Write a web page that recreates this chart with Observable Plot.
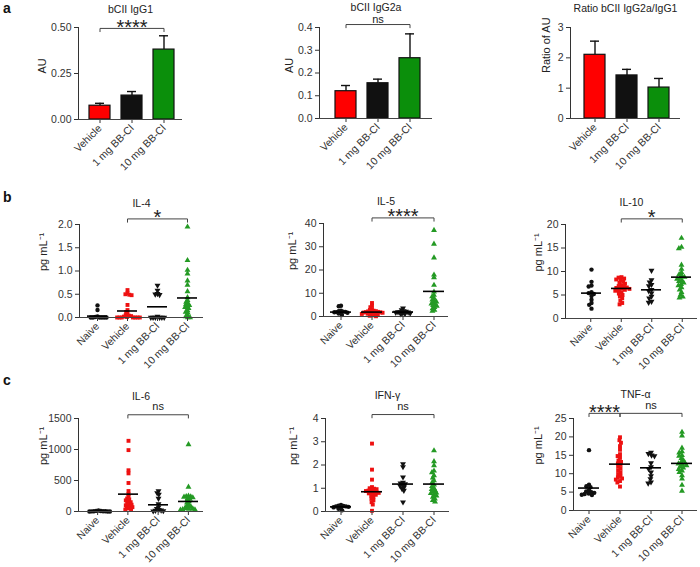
<!DOCTYPE html>
<html>
<head>
<meta charset="utf-8">
<script src="https://cdn.jsdelivr.net/npm/d3@7"></script>
<script src="https://cdn.jsdelivr.net/npm/@observablehq/plot@0.6"></script>
<style>
  body { margin: 0; background: #fff; }
  #fig { position: relative; width: 700px; height: 567px; font-family: "Liberation Sans", Arial, sans-serif; overflow: hidden; }
  .panel { position: absolute; }
  .panel svg { position: absolute; left: 0; top: 0; }
  .letter { position: absolute; font-weight: bold; font-size: 14px; line-height: 14px; color: #111; }
</style>
</head>
<body>
<div id="fig"></div>
<script>
// ---------------- data ----------------
const barGroups = ["Vehicle", "1 mg BB-Cl", "10 mg BB-Cl"];
const ratioGroups = ["Vehicle", "1mg BB-Cl", "10 mg BB-Cl"];
const igg1Mean = [0.075, 0.13, 0.38];
const igg1Sem = [0.013, 0.022, 0.075];
const igg2aMean = [0.12, 0.155, 0.265];
const igg2aSem = [0.025, 0.018, 0.107];
const ratioMean = [2.1, 1.42, 1.02];
const ratioSem = [0.45, 0.2, 0.3];

const scatterGroups = ["Naive", "Vehicle", "1 mg BB-Cl", "10 mg BB-Cl"];

const il4Naive = [0.26, 0.16, 0.02, 0.01, 0, 0, 0, 0, 0, 0];
const il4Vehicle = [0.59, 0.52, 0.50, 0.49, 0.48, 0.27, 0.16, 0.12, 0.08, 0.05, 0.04, 0.03, 0.02, 0.01, 0, 0, 0, 0, 0, 0, 0];
const il4Low = [0.69, 0.58, 0.51, 0.50, 0.49, 0.02, 0, 0, 0, 0, 0, 0];
const il4High = [1.95, 1.23, 1.02, 0.94, 0.79, 0.70, 0.56, 0.43, 0.37, 0.33, 0.30, 0.28, 0.26, 0.24, 0.22, 0.20, 0.15, 0.12, 0.10, 0.05, 0.02, 0, 0];
const il4Means = [0.03, 0.14, 0.23, 0.42];

const il5Naive = [4.6, 4.4, 2.5, 2.3, 2.1, 2.0, 1.9, 1.8, 1.6, 1.5, 1.3, 0.6];
const il5Vehicle = [5.8, 4.7, 4.0, 3.2, 2.8, 2.5, 2.3, 2.2, 2.1, 2.0, 1.9, 1.8, 1.7, 1.6, 1.5, 1.4, 1.3, 1.2, 1.1, 1.0, 0.8, 0.5, 0.3, 0.1];
const il5Low = [3.6, 2.8, 2.4, 2.2, 2.0, 1.9, 1.8, 1.7, 1.5, 1.4, 1.2, 1.0];
const il5High = [37.1, 31.2, 25.3, 17.9, 16.8, 13.5, 10.6, 9.2, 8.6, 7.9, 7.2, 6.8, 6.3, 5.9, 5.5, 5.2, 4.8, 4.5, 4.0, 3.4, 2.8, 2.3];
const il5Means = [1.9, 1.9, 1.9, 10.8];

const il10Naive = [10.4, 7.8, 7.0, 6.8, 5.6, 5.4, 5.2, 4.8, 4.0, 3.3, 2.9, 2.1];
const il10Vehicle = [8.8, 8.7, 8.5, 8.3, 8.2, 7.9, 7.6, 7.4, 7.1, 6.9, 6.7, 6.6, 6.5, 6.4, 6.3, 6.1, 6.0, 5.9, 5.6, 5.3, 5.0, 4.7, 4.3, 3.8, 3.3, 3.0];
const il10Low = [10.2, 8.2, 7.7, 7.2, 6.9, 6.1, 5.9, 5.4, 4.7, 4.3, 3.6, 3.4];
const il10High = [17.1, 15.2, 14.9, 11.4, 10.5, 9.8, 9.4, 9.1, 8.8, 8.6, 8.4, 8.1, 7.9, 7.6, 7.3, 7.0, 6.6, 6.1, 5.6, 5.0, 4.6, 4.4];
const il10Means = [5.4, 6.4, 6.1, 8.8];

const il6Naive = [15, 10, 8, 5, 5, 3, 2, 0, 0, 0];
const il6Vehicle = [1140, 990, 665, 615, 460, 330, 280, 240, 210, 195, 180, 160, 150, 130, 120, 110, 100, 90, 80, 70, 60, 50, 40, 30];
const il6Low = [330, 300, 275, 210, 120, 70, 45, 30, 20, 15, 10, 5];
const il6High = [1080, 395, 250, 245, 240, 235, 225, 215, 200, 180, 160, 140, 120, 100, 80, 70, 60, 50, 45, 40, 35, 30, 25];
const il6Means = [5, 280, 108, 162];

const ifnNaive = [0.28, 0.25, 0.24, 0.22, 0.22, 0.2, 0.18, 0.15, 0.12, 0.05];
const ifnVehicle = [2.92, 1.8, 1.37, 1.05, 1.0, 0.98, 0.96, 0.93, 0.9, 0.88, 0.86, 0.84, 0.82, 0.8, 0.78, 0.75, 0.72, 0.68, 0.62, 0.55, 0.48, 0.4, 0.3, 0.03];
const ifnLow = [2.05, 1.92, 1.48, 1.25, 1.22, 1.18, 1.14, 1.1, 1.05, 0.98, 0.9, 0.4];
const ifnHigh = [2.62, 2.15, 1.98, 1.75, 1.68, 1.55, 1.45, 1.33, 1.25, 1.15, 1.08, 1.0, 0.95, 0.9, 0.85, 0.8, 0.78, 0.72, 0.68, 0.62, 0.55, 0.48, 0.42];
const ifnMeans = [0.2, 0.85, 1.18, 1.18];

const tnfNaive = [16.4, 7.0, 6.6, 6.3, 5.5, 5.2, 5.0, 4.8, 4.6, 4.5, 4.3, 4.2];
const tnfVehicle = [19.9, 19.1, 18.4, 17.5, 16.5, 15.3, 14.8, 14.3, 13.6, 13.2, 12.8, 12.4, 11.9, 11.4, 10.9, 10.4, 9.9, 9.4, 9.0, 8.7, 8.4, 8.0, 7.6, 6.5];
const tnfLow = [15.8, 15.4, 15.0, 14.8, 12.9, 11.8, 11.3, 10.4, 9.4, 8.6, 7.7, 7.4];
const tnfHigh = [21.3, 20.3, 17.0, 16.0, 15.7, 15.0, 14.8, 14.2, 13.6, 13.1, 12.9, 12.7, 12.4, 12.2, 11.9, 11.6, 11.2, 10.8, 10.4, 9.5, 8.6, 6.9, 5.3];
const tnfMeans = [6.1, 12.6, 11.6, 12.8];

// ---------------- styles ----------------
const FONT = '"Liberation Sans", Arial, sans-serif';
const INK = "#222";
const AXIS = "#444";
const barColors = ["#ff0000", "#111111", "#0b8f0b"];
const dotColors = ["#111111", "#ee1111", "#111111", "#249a24"];

const triDown = {
  draw(context, size) {
    const s3 = Math.sqrt(3);
    const y = -Math.sqrt(size / (s3 * 3));
    context.moveTo(0, -y * 2);
    context.lineTo(-s3 * y, y);
    context.lineTo(s3 * y, y);
    context.closePath();
  }
};

const fig = document.getElementById("fig");
function container(left, top, width, height) {
  const d = document.createElement("div");
  d.className = "panel";
  d.style.left = left + "px"; d.style.top = top + "px";
  d.style.width = width + "px"; d.style.height = height + "px";
  fig.appendChild(d);
  return d;
}
const svgStyle = {fontFamily: FONT, fontSize: "10.5px", color: "#333", background: "transparent", overflow: "visible"};

function bracketMarks(brackets, xOf, midOf, domain) {
  const d = (domain[1] - domain[0]) * 0.035;
  const pts = brackets.flatMap((b, k) => [
    {k, x: xOf(b.from), y: b.level - d},
    {k, x: xOf(b.from), y: b.level},
    {k, x: xOf(b.to), y: b.level},
    {k, x: xOf(b.to), y: b.level - d}
  ]);
  const marks = [Plot.line(pts, {x: "x", y: "y", z: "k", stroke: AXIS, strokeWidth: 1})];
  for (const b of brackets) {
    const star = b.label.startsWith("*");
    const mid = midOf(b);
    marks.push(Plot.text([b], {x: () => mid, y: "level", text: "label", fill: INK,
      fontSize: star ? 20 : 11, lineAnchor: "middle", dy: b.dy}));
  }
  return marks;
}

function titleMark(text, dy) {
  return Plot.text([text], {text: d => d, frameAnchor: "top", lineAnchor: "middle", dy, fontSize: 10.5, fill: INK});
}
function ylabelMark(text, dx) {
  return Plot.text([text], {text: d => d, frameAnchor: "left", lineAnchor: "middle", rotate: -90, dx, fontSize: 11, fill: INK});
}

function barPanel(p) {
  const rows = p.groups.map((g, i) => ({group: g, mean: p.means[i], sem: p.sems[i]}));
  const div = container(p.left, p.top, p.width, p.height);
  const marks = [
    Plot.barY(rows, {x: "group", y: "mean", fill: "group", stroke: "#111", strokeWidth: 1.2}),
    Plot.ruleX(rows, {x: "group", y1: "mean", y2: d => d.mean + d.sem, stroke: "#111", strokeWidth: 1.4}),
    Plot.tickY(rows, {x: "group", y: d => d.mean + d.sem, stroke: "#111", strokeWidth: 1.4, insetLeft: 6, insetRight: 6}),
    Plot.ruleY([p.domain[0]], {stroke: AXIS, strokeWidth: 1}),
    titleMark(p.title, p.titleY - p.yTop),
    ylabelMark(p.ylabel, p.ylabelDx)
  ];
  if (p.brackets) {
    const idx = g => p.groups.indexOf(g);
    marks.push(...bracketMarks(p.brackets, g => g, b => p.groups[(idx(b.from) + idx(b.to)) / 2], p.domain));
  }
  const svg = Plot.plot({
    width: p.width, height: p.height,
    marginLeft: p.axisX - p.left, marginRight: p.left + p.width - p.right,
    marginTop: p.yTop - p.top, marginBottom: p.top + p.height - p.yBottom,
    style: svgStyle,
    x: {domain: p.groups, range: [p.xRange[0] - p.left, p.xRange[1] - p.left], padding: 0.33,
        tickRotate: -45, tickSize: 4, tickPadding: 3, label: null},
    y: {domain: p.domain, ticks: p.ticks, tickFormat: d3.format(p.format), tickSize: 4, tickPadding: 3, line: true, label: null},
    color: {domain: p.groups, range: barColors},
    marks
  });
  div.appendChild(svg);
}

function scatterPanel(p) {
  const n = scatterGroups.length;
  const rows = scatterGroups.flatMap((g, i) => p.values[i].map(v => ({group: g, value: v})));
  const meanRows = scatterGroups.map((g, i) => ({group: g, mean: p.means[i]}));
  const div = container(p.left, p.top, p.width, p.height);
  const base = {
    width: p.width, height: p.height,
    marginTop: p.yTop - p.top, marginBottom: p.top + p.height - p.yBottom,
    style: svgStyle
  };
  const dots = Plot.plot({
    ...base,
    marginLeft: p.band[0] - p.left, marginRight: p.left + p.width - p.band[1],
    fx: {domain: scatterGroups, padding: 0, axis: null, label: null},
    y: {domain: p.domain, axis: null},
    symbol: {domain: scatterGroups, range: [d3.symbolCircle, d3.symbolSquare, triDown, d3.symbolTriangle]},
    color: {domain: scatterGroups, range: dotColors},
    marks: [
      Plot.dot(rows, Plot.dodgeX({anchor: "middle", padding: p.pad ?? -1.4},
        {fx: "group", y: "value", symbol: "group", fill: "group", r: 2.2})),
      Plot.ruleY(meanRows, {fx: "group", y: "mean", stroke: "#000", strokeWidth: 1.6, insetLeft: 5, insetRight: 5})
    ]
  });
  div.appendChild(dots);

  const idx = g => scatterGroups.indexOf(g);
  const over = Plot.plot({
    ...base,
    marginLeft: p.axisX - p.left, marginRight: p.left + p.width - p.right,
    x: {type: "linear", domain: [-0.5, n - 0.5], range: [p.band[0] - p.left, p.band[1] - p.left],
        ticks: d3.range(n), tickFormat: i => scatterGroups[i], tickRotate: -45, tickSize: 4, tickPadding: 3, label: null},
    y: {domain: p.domain, ticks: p.ticks, tickFormat: d3.format(p.format), tickSize: 4, tickPadding: 3, line: true, label: null},
    marks: [
      Plot.ruleY([p.domain[0]], {stroke: AXIS, strokeWidth: 1}),
      ...bracketMarks(p.brackets, idx, b => (idx(b.from) + idx(b.to)) / 2, p.domain),
      titleMark(p.title, p.titleY - p.yTop),
      ylabelMark(p.ylabel, p.ylabelDx)
    ]
  });
  div.appendChild(over);
}

// ---------------- row a ----------------
barPanel({left: 0, top: 0, width: 235, height: 185, axisX: 78, right: 182, yTop: 27, yBottom: 119, xRange: [78, 186],
  groups: barGroups, means: igg1Mean, sems: igg1Sem, domain: [0, 0.5], ticks: [0, 0.25, 0.5], format: ".2f",
  title: "bCII IgG1", titleY: 9.5, ylabel: "AU", ylabelDx: -36,
  brackets: [{from: "Vehicle", to: "10 mg BB-Cl", level: 0.495, label: "****", dy: -1}]});
barPanel({left: 240, top: 0, width: 230, height: 185, axisX: 319, right: 432, yTop: 27, yBottom: 118, xRange: [324, 432],
  groups: barGroups, means: igg2aMean, sems: igg2aSem, domain: [0, 0.4], ticks: [0, 0.1, 0.2, 0.3, 0.4], format: ".1f",
  title: "bCII IgG2a", titleY: 7.5, ylabel: "AU", ylabelDx: -30,
  brackets: [{from: "Vehicle", to: "10 mg BB-Cl", level: 0.413, label: "ns", dy: -5}]});
barPanel({left: 470, top: 0, width: 230, height: 185, axisX: 570, right: 680, yTop: 27, yBottom: 118, xRange: [573, 681],
  groups: ratioGroups, means: ratioMean, sems: ratioSem, domain: [0, 3], ticks: [0, 1, 2, 3], format: "d",
  title: "Ratio bCII IgG2a/IgG1", titleY: 8, ylabel: "Ratio of AU", ylabelDx: -24});

// ---------------- row b ----------------
scatterPanel({left: 0, top: 185, width: 235, height: 190, axisX: 79, band: [82, 202], right: 203, yTop: 224, yBottom: 317,
  values: [il4Naive, il4Vehicle, il4Low, il4High], means: il4Means, domain: [0, 2], ticks: [0, 0.5, 1, 1.5, 2], format: ".1f",
  title: "IL-4", titleY: 203, ylabel: "pg mL\u207B\u00B9", ylabelDx: -36, pad: -2.1,
  brackets: [{from: "Vehicle", to: "10 mg BB-Cl", level: 2.12, label: "*", dy: -1}]});
scatterPanel({left: 240, top: 185, width: 230, height: 190, axisX: 323, band: [325, 449], right: 448, yTop: 223, yBottom: 316,
  values: [il5Naive, il5Vehicle, il5Low, il5High], means: il5Means, domain: [0, 40], ticks: [0, 10, 20, 30, 40], format: "d",
  title: "IL-5", titleY: 201, ylabel: "pg mL\u207B\u00B9", ylabelDx: -31, pad: -2.1,
  brackets: [{from: "Vehicle", to: "10 mg BB-Cl", level: 42.4, label: "****", dy: -1}]});
scatterPanel({left: 470, top: 185, width: 230, height: 190, axisX: 565, band: [575, 697], right: 697, yTop: 224, yBottom: 318,
  values: [il10Naive, il10Vehicle, il10Low, il10High], means: il10Means, domain: [0, 20], ticks: [0, 5, 10, 15, 20], format: "d",
  title: "IL-10", titleY: 202, ylabel: "pg mL\u207B\u00B9", ylabelDx: -27,
  brackets: [{from: "Vehicle", to: "10 mg BB-Cl", level: 21.2, label: "*", dy: -1}]});

// ---------------- row c ----------------
scatterPanel({left: 0, top: 375, width: 235, height: 192, axisX: 78, band: [82, 203], right: 203, yTop: 418, yBottom: 511,
  values: [il6Naive, il6Vehicle, il6Low, il6High], means: il6Means, domain: [0, 1500], ticks: [0, 500, 1000, 1500], format: "d",
  title: "IL-6", titleY: 396, ylabel: "pg mL\u207B\u00B9", ylabelDx: -35, pad: -2.1,
  brackets: [{from: "Vehicle", to: "10 mg BB-Cl", level: 1560, label: "ns", dy: -8.5}]});
scatterPanel({left: 240, top: 375, width: 230, height: 192, axisX: 325, band: [325, 449], right: 449, yTop: 418, yBottom: 511,
  values: [ifnNaive, ifnVehicle, ifnLow, ifnHigh], means: ifnMeans, domain: [0, 4], ticks: [0, 1, 2, 3, 4], format: "d",
  title: "IFN-\u03B3", titleY: 395, ylabel: "pg mL\u207B\u00B9", ylabelDx: -32, pad: -1.8,
  brackets: [{from: "Vehicle", to: "10 mg BB-Cl", level: 4.17, label: "ns", dy: -8.5}]});
scatterPanel({left: 470, top: 375, width: 230, height: 192, axisX: 573, band: [573, 697], right: 697, yTop: 418, yBottom: 510,
  values: [tnfNaive, tnfVehicle, tnfLow, tnfHigh], means: tnfMeans, domain: [0, 25], ticks: [0, 5, 10, 15, 20, 25], format: "d",
  title: "TNF-\u03B1", titleY: 394, ylabel: "pg mL\u207B\u00B9", ylabelDx: -35,
  brackets: [
    {from: "Naive", to: "Vehicle", level: 26.4, label: "****", dy: -1},
    {from: "Vehicle", to: "10 mg BB-Cl", level: 26.4, label: "ns", dy: -8}
  ]});

// ---------------- panel letters ----------------
for (const [t, x, y] of [["a", 3, 1], ["b", 3, 190], ["c", 3, 373]]) {
  const s = document.createElement("div");
  s.className = "letter";
  s.textContent = t;
  s.style.left = x + "px"; s.style.top = y + "px";
  fig.appendChild(s);
}
</script>
</body>
</html>
